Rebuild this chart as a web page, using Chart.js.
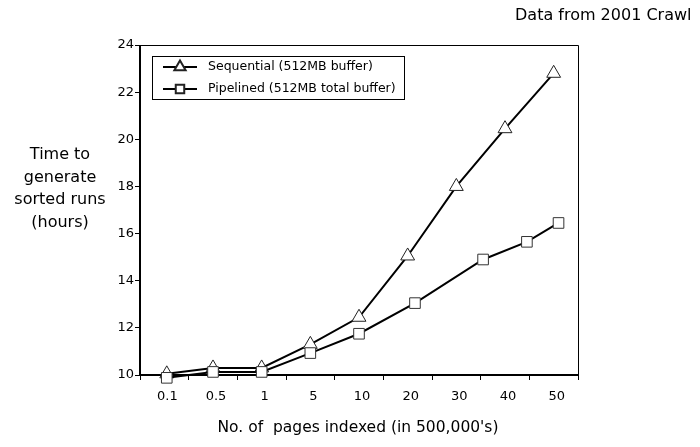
<!DOCTYPE html>
<html lang="en">
<head>
    <meta charset="UTF-8">
    <title>Time to generate sorted runs</title>
    <script src="https://cdn.jsdelivr.net/npm/chart.js"></script>
    <style>
        body { margin: 0; background: #fff; }
        #wrap { width: 700px; height: 447px; }
    </style>
</head>
<body>
    <div id="wrap"><canvas id="stats"></canvas></div>
    <script>
        // tick labels along x (pages indexed, in 500,000's)
        const pageLabels = ["0.1", "0.5", "1", "5", "10", "20", "30", "40", "50"];

        // where each point sits along x, in label slots
        const sequentialPos = [0.05, 1, 2, 3, 4, 5, 6, 7, 8];
        const pipelinedPos = [0.05, 1, 2, 3, 4, 5.15, 6.55, 7.45, 8.1];

        // hours
        const sequentialHours = [10.05, 10.3, 10.3, 11.3, 12.45, 15.05, 18.0, 20.45, 22.8];
        const pipelinedHours = [9.88, 10.13, 10.13, 10.93, 11.75, 13.05, 14.9, 15.65, 16.45];

        const seriesNames = ["Sequential (512MB buffer)", "Pipelined (512MB total buffer)"];
        const yTitleLines = ["Time to", "generate", "sorted runs", "(hours)"];
        const xTitle = "No. of  pages indexed (in 500,000's)";
        const topNote = "Data from 2001 Crawl";

        const FONT = "'DejaVu Sans', Verdana, sans-serif";

        function toPoints(xs, ys) {
            return xs.map((x, i) => ({ x: x, y: ys[i] }));
        }

        // smaller markers in the legend than on the lines
        const legendMarkers = [
            { pointStyle: "triangle", radius: 6.5 },
            { pointStyle: "rect", radius: 6 }
        ];

        const ctx = document.getElementById("stats").getContext("2d");
        const chart = new Chart(ctx, {
            type: "line",
            data: {
                datasets: [
                    {
                        label: seriesNames[0],
                        data: toPoints(sequentialPos, sequentialHours),
                        borderColor: "#000",
                        borderWidth: 2,
                        pointStyle: "triangle",
                        pointRadius: 8,
                        pointBackgroundColor: "#fff",
                        pointBorderColor: "#222",
                        pointBorderWidth: 1,
                        clip: false,
                        order: 1
                    },
                    {
                        label: seriesNames[1],
                        data: toPoints(pipelinedPos, pipelinedHours),
                        borderColor: "#000",
                        borderWidth: 2,
                        pointStyle: "rect",
                        pointRadius: 7.5,
                        pointBackgroundColor: "#fff",
                        pointBorderColor: "#333",
                        pointBorderWidth: 1,
                        clip: false,
                        order: 0
                    }
                ]
            },
            options: {
                responsive: true,
                maintainAspectRatio: false,
                animation: false,
                events: [],
                layout: { padding: { top: 45, right: 122, left: 0, bottom: 0 } },
                scales: {
                    x: {
                        type: "linear",
                        min: -0.5,
                        max: 8.5,
                        afterBuildTicks: (scale) => {
                            scale.ticks = pageLabels.map((_, i) => ({ value: i }));
                        },
                        afterFit: (scale) => { scale.height = 72; },
                        grid: {
                            offset: true,
                            drawOnChartArea: false,
                            drawTicks: true,
                            tickLength: 5,
                            color: "#000",
                            lineWidth: 1
                        },
                        border: { display: false },
                        ticks: {
                            autoSkip: false,
                            maxRotation: 0,
                            padding: 9,
                            labelOffset: 3,
                            color: "#000",
                            font: { family: FONT, size: 13 },
                            callback: (value) => pageLabels[value]
                        }
                    },
                    y: {
                        min: 10,
                        max: 24,
                        afterFit: (scale) => { scale.width = 140; },
                        grid: {
                            drawOnChartArea: false,
                            drawTicks: true,
                            tickLength: 5,
                            color: "#000",
                            lineWidth: 1
                        },
                        border: { display: false },
                        ticks: {
                            stepSize: 2,
                            padding: 1,
                            color: "#000",
                            font: { family: FONT, size: 13 }
                        }
                    }
                },
                plugins: {
                    legend: { display: false },
                    tooltip: { enabled: false }
                }
            },
            plugins: [{
                id: "frameAndText",
                beforeDatasetsDraw: (chart) => {
                    const { ctx, chartArea: { left, right, top, bottom } } = chart;
                    ctx.save();
                    ctx.strokeStyle = "#000";
                    // thin top/right edges
                    ctx.lineWidth = 1;
                    ctx.beginPath();
                    ctx.moveTo(left, top + 0.5);
                    ctx.lineTo(right + 0.5, top + 0.5);
                    ctx.lineTo(right + 0.5, bottom);
                    ctx.stroke();
                    // heavier axis lines
                    ctx.lineWidth = 2;
                    ctx.beginPath();
                    ctx.moveTo(left, top);
                    ctx.lineTo(left, bottom);
                    ctx.lineTo(right + 1, bottom);
                    ctx.stroke();
                    ctx.restore();
                },
                afterDraw: (chart) => {
                    const { ctx } = chart;
                    ctx.save();
                    ctx.fillStyle = "#000";

                    // note at top right
                    ctx.font = "16px " + FONT;
                    ctx.textAlign = "left";
                    ctx.textBaseline = "middle";
                    ctx.fillText(topNote, 515, 16);

                    // y title, horizontal lines
                    ctx.font = "16px " + FONT;
                    ctx.textAlign = "center";
                    const yLineMids = [155, 178, 200, 223];
                    yTitleLines.forEach((line, i) => ctx.fillText(line, 60, yLineMids[i]));

                    // x title
                    ctx.font = "15.5px " + FONT;
                    ctx.fillText(xTitle, 358, 428);

                    // legend box
                    ctx.lineWidth = 1;
                    ctx.strokeStyle = "#000";
                    ctx.strokeRect(152.5, 56.5, 252, 43);
                    const rows = [67, 89];
                    seriesNames.forEach((name, i) => {
                        const y = rows[i];
                        ctx.lineWidth = 2;
                        ctx.beginPath();
                        ctx.moveTo(163, y);
                        ctx.lineTo(197, y);
                        ctx.stroke();
                        ctx.fillStyle = "#fff";
                        ctx.strokeStyle = "#222";
                        Chart.helpers.drawPoint(ctx, {
                            pointStyle: legendMarkers[i].pointStyle,
                            radius: legendMarkers[i].radius,
                            rotation: 0,
                            borderWidth: 1
                        }, 180, y);
                        ctx.fillStyle = "#000";
                        ctx.strokeStyle = "#000";
                        ctx.font = "12.5px " + FONT;
                        ctx.textAlign = "left";
                        ctx.fillText(name, 208, y);
                    });
                    ctx.restore();
                }
            }]
        });
    </script>
</body>
</html>
